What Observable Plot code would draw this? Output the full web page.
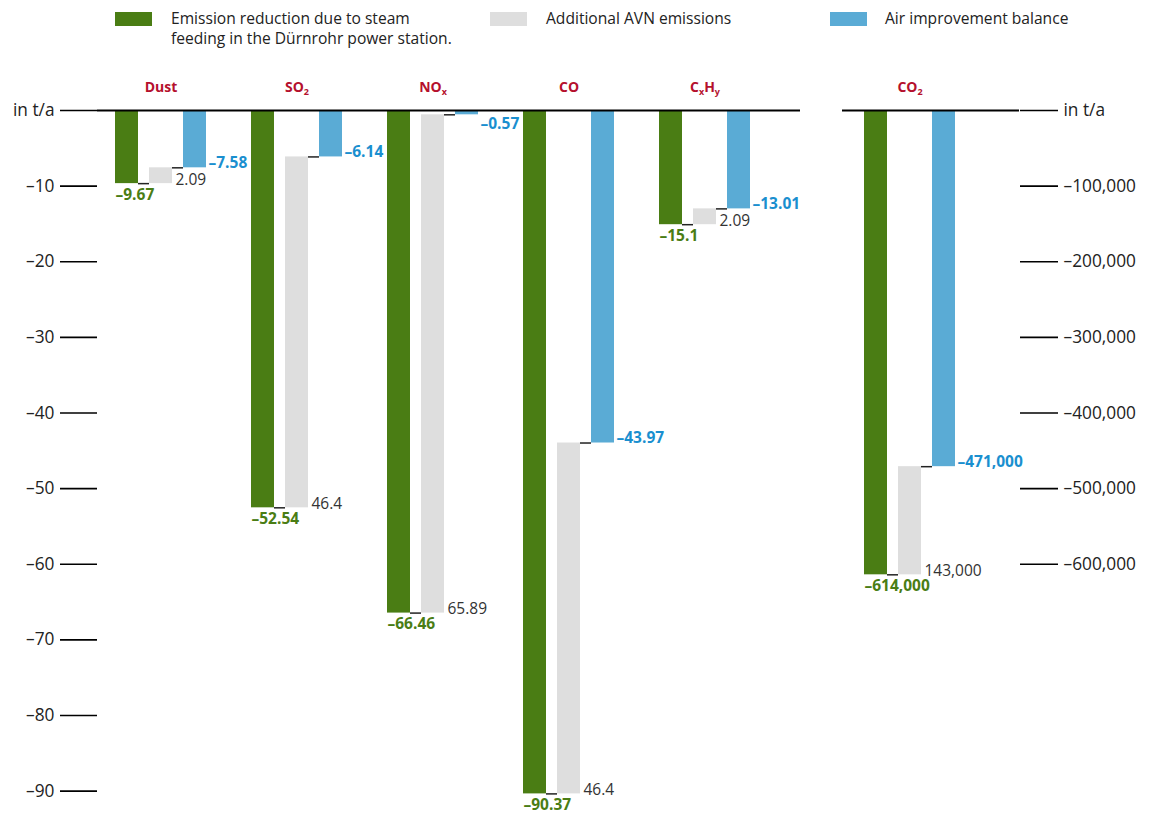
<!DOCTYPE html>
<html><head><meta charset="utf-8">
<script src="https://cdn.jsdelivr.net/npm/d3@7"></script>
<script src="https://cdn.jsdelivr.net/npm/@observablehq/plot@0.6"></script>
<style>
body{margin:0;background:#fff;font-family:"Open Sans",sans-serif;}
#wrap{position:relative;width:1155px;height:815px;overflow:hidden;background:#fff}
.leg{position:absolute;font-size:15.6px;line-height:20px;height:20px;color:#222;white-space:nowrap}
.sw{position:absolute;width:37px;height:14px;top:12px}
#charts{position:absolute;left:0;top:58px;display:flex}
#charts svg{display:block;overflow:visible}
</style></head><body>
<div id="wrap">
  <div class="sw" style="left:115px;background:#4a7d14"></div>
  <div class="leg" style="left:171px;top:8px">Emission reduction due to steam</div>
  <div class="leg" style="left:171px;top:28px">feeding in the Dürnrohr power station.</div>
  <div class="sw" style="left:490px;background:#dedede"></div>
  <div class="leg" style="left:546px;top:8px">Additional AVN emissions</div>
  <div class="sw" style="left:830px;background:#5aabd5"></div>
  <div class="leg" style="left:885px;top:8px">Air improvement balance</div>
  <div id="charts"></div>
</div>
<script>
// ---- data ----
const categories = ["Dust", "SO_2", "NO_x", "CO", "C_xH_y"];
const reduction  = [-9.67, -52.54, -66.46, -90.37, -15.1];
const additional = [2.09, 46.4, 65.89, 46.4, 2.09];
const balance    = [-7.58, -6.14, -0.57, -43.97, -13.01];
const leftTicks  = [0, -10, -20, -30, -40, -50, -60, -70, -80, -90];

const co2Categories = ["CO_2"];
const co2Reduction  = [-614000];
const co2Additional = [143000];
const co2Balance    = [-471000];
const rightTicks    = [0, -100000, -200000, -300000, -400000, -500000, -600000];

// ---- style ----
const GREEN = "#4a7d14", GREY = "#dedede", BLUE = "#5aabd5", BLUE_TXT = "#1a8fcf", RED = "#b5102d";
const FONT = "'Open Sans', sans-serif";
const HW = 11.5 / 34; // half bar width in slot units
const H = 757, MT = 52, MB = 24.4;

const fmt = v => (v < 0 ? "\u2013" : "") + d3.format(",")(Math.abs(v));

function rowsOf(cats, red, add, bal, slotOf) {
  return cats.map((c, i) => ({cat: c, u: slotOf(i), red: red[i], add: add[i], bal: bal[i]}));
}

function chart(rows, {width, marginLeft, marginRight, xDomain, yDomain, ticks, anchor, tickSize}) {
  const maxAbs = Math.abs(yDomain[1]);
  const small = d => Math.abs(d.bal) < maxAbs * 0.03;
  return Plot.plot({
    width, height: H,
    marginTop: MT, marginBottom: MB, marginLeft, marginRight,
    style: {fontFamily: FONT, background: "transparent"},
    x: {domain: xDomain, axis: null},
    y: {domain: yDomain, range: [MT, H - MB], axis: null},
    marks: [
      Plot.rect(rows, {x1: d => d.u - HW, x2: d => d.u + HW, y1: 0, y2: "red", fill: GREEN}),
      Plot.rect(rows, {x1: d => d.u + 1 - HW, x2: d => d.u + 1 + HW, y1: "red", y2: d => d.red + d.add, fill: GREY}),
      Plot.rect(rows, {x1: d => d.u + 2 - HW, x2: d => d.u + 2 + HW, y1: 0, y2: "bal", fill: BLUE}),
      Plot.ruleY(rows, {y: "red", x1: d => d.u + HW, x2: d => d.u + 1 - HW, stroke: "#222", strokeWidth: 1.5}),
      Plot.ruleY(rows, {y: "bal", x1: d => d.u + 1 + HW, x2: d => d.u + 2 - HW, stroke: "#222", strokeWidth: 1.5}),
      Plot.ruleY([0], {stroke: "#000", strokeWidth: 2}),
      Plot.axisY({anchor, ticks, tickSize, tickPadding: 6, strokeWidth: 1.7, stroke: "#000",
        tickFormat: d => d === 0 ? "in t/a" : fmt(d), fontSize: 17.3, fill: "#222", label: null}),
      Plot.text(rows, {x: d => d.u - HW, y: "red", text: d => fmt(d.red), textAnchor: "start",
        lineAnchor: "top", dy: 5, fill: GREEN, fontWeight: "bold", fontSize: 15.5}),
      Plot.text(rows, {x: d => d.u + 1 + HW, y: "red", text: d => fmt(d.add), textAnchor: "start",
        lineAnchor: "bottom", dx: 3, dy: 1, fill: "#333", fontSize: 15.5}),
      Plot.text(rows.filter(d => !small(d)), {x: d => d.u + 2 + HW, y: "bal", text: d => fmt(d.bal), textAnchor: "start",
        lineAnchor: "bottom", dx: 2, fill: BLUE_TXT, fontWeight: "bold", fontSize: 15.5}),
      Plot.text(rows.filter(small), {x: d => d.u + 2 + HW, y: "bal", text: d => fmt(d.bal), textAnchor: "start",
        lineAnchor: "top", dx: 2, dy: 3, fill: BLUE_TXT, fontWeight: "bold", fontSize: 15.5}),
      Plot.text(rows, {x: d => d.u + 1, frameAnchor: "top", text: "cat", dy: -23, lineAnchor: "middle",
        fill: RED, fontWeight: "bold", fontSize: 14, className: "catlabel"})
    ]
  });
}

function subscripts(svg) {
  svg.querySelectorAll(".catlabel text").forEach(el => {
    const s = el.textContent;
    if (!s.includes("_")) return;
    el.textContent = "";
    const ns = "http://www.w3.org/2000/svg";
    let shifted = false;
    s.split(/(_.)/).filter(p => p.length).forEach(p => {
      const t = document.createElementNS(ns, "tspan");
      if (p[0] === "_") {
        t.textContent = p[1];
        t.setAttribute("font-size", "9");
        t.setAttribute("dy", "3");
        shifted = true;
      } else {
        t.textContent = p;
        if (shifted) { t.setAttribute("dy", "-3"); shifted = false; }
      }
      el.appendChild(t);
    });
  });
}

const leftRows = rowsOf(categories, reduction, additional, balance, i => i * 4);
const rightRows = rowsOf(co2Categories, co2Reduction, co2Additional, co2Balance, i => i * 4);

const left = chart(leftRows, {
  width: 820, marginLeft: 97, marginRight: 20,
  xDomain: [(97 - 126.5) / 34, (800 - 126.5) / 34],
  yDomain: [0, -90], ticks: leftTicks, anchor: "left", tickSize: 37
});
const right = chart(rightRows, {
  width: 335, marginLeft: 22, marginRight: 136,
  xDomain: [(22 - 55.5) / 34, (199 - 55.5) / 34],
  yDomain: [0, -900000], ticks: rightTicks, anchor: "right", tickSize: 38
});
subscripts(left); subscripts(right);
document.getElementById("charts").append(left, right);
</script>
</body></html>
